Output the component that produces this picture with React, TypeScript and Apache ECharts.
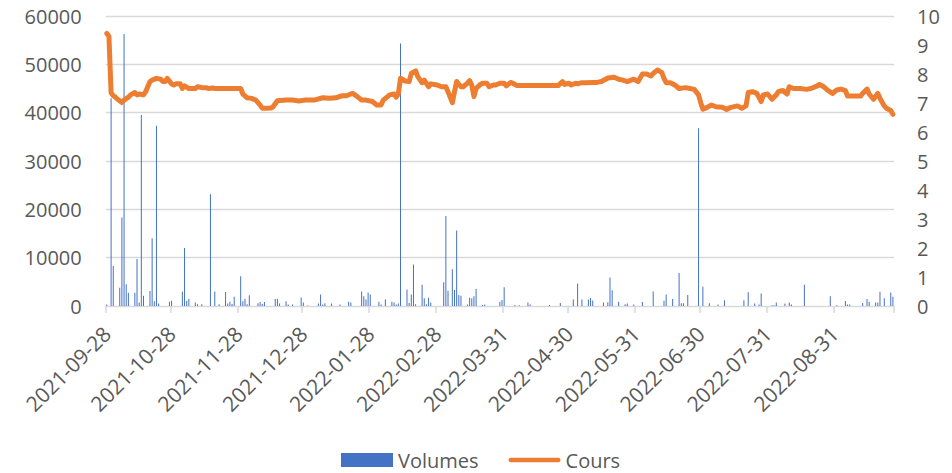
import React, { useEffect, useRef } from "react";
import * as echarts from "echarts";

// ---- data ----
const START_DATE = "2021-09-28";
const DAY_COUNT = 365;

const TICK_LABELS = [
  "2021-09-28", "2021-10-28", "2021-11-28", "2021-12-28", "2022-01-28", "2022-02-28",
  "2022-03-31", "2022-04-30", "2022-05-31", "2022-06-30", "2022-07-31", "2022-08-31",
];

const VOLUMES: [string, number][] = [
  ["2021-09-28", 300], ["2021-09-30", 43000], ["2021-10-01", 8300], ["2021-10-04", 3800],
  ["2021-10-05", 18300], ["2021-10-06", 56300], ["2021-10-07", 4500], ["2021-10-08", 2750],
  ["2021-10-11", 2750], ["2021-10-12", 9700], ["2021-10-13", 700], ["2021-10-14", 39500],
  ["2021-10-15", 2100], ["2021-10-18", 3100], ["2021-10-19", 14000], ["2021-10-20", 1000],
  ["2021-10-21", 37300], ["2021-10-22", 500], ["2021-10-27", 900], ["2021-10-28", 1100],
  ["2021-11-02", 3000], ["2021-11-03", 12000], ["2021-11-04", 1100], ["2021-11-05", 1500],
  ["2021-11-08", 700], ["2021-11-09", 350], ["2021-11-11", 350], ["2021-11-15", 23100],
  ["2021-11-17", 3000], ["2021-11-19", 350], ["2021-11-22", 2900], ["2021-11-23", 500],
  ["2021-11-24", 900], ["2021-11-25", 400], ["2021-11-26", 1900], ["2021-11-29", 6150],
  ["2021-11-30", 1000], ["2021-12-01", 1500], ["2021-12-02", 350], ["2021-12-03", 2200],
  ["2021-12-07", 550], ["2021-12-08", 850], ["2021-12-09", 400], ["2021-12-10", 850],
  ["2021-12-15", 1450], ["2021-12-16", 1500], ["2021-12-17", 500], ["2021-12-20", 1000],
  ["2021-12-21", 300], ["2021-12-23", 300], ["2021-12-27", 1750], ["2021-12-28", 750],
  ["2021-12-30", 100], ["2022-01-04", 500], ["2022-01-05", 2400], ["2022-01-06", 300],
  ["2022-01-07", 550], ["2022-01-10", 500], ["2022-01-14", 300], ["2022-01-18", 900],
  ["2022-01-19", 750], ["2022-01-24", 3000], ["2022-01-25", 2000], ["2022-01-26", 1350],
  ["2022-01-27", 2800], ["2022-01-28", 2400], ["2022-02-01", 900], ["2022-02-02", 300],
  ["2022-02-04", 1400], ["2022-02-07", 900], ["2022-02-08", 700], ["2022-02-09", 300],
  ["2022-02-10", 500], ["2022-02-11", 54300], ["2022-02-14", 3400], ["2022-02-15", 600],
  ["2022-02-16", 2400], ["2022-02-17", 8600], ["2022-02-18", 350], ["2022-02-21", 4400],
  ["2022-02-22", 1600], ["2022-02-23", 350], ["2022-02-24", 1700], ["2022-02-25", 750],
  ["2022-03-03", 4900], ["2022-03-04", 18600], ["2022-03-05", 3150], ["2022-03-07", 7600],
  ["2022-03-08", 3300], ["2022-03-09", 15600], ["2022-03-10", 2300], ["2022-03-11", 2100],
  ["2022-03-14", 300], ["2022-03-15", 1700], ["2022-03-16", 1600], ["2022-03-17", 2000],
  ["2022-03-18", 3500], ["2022-03-21", 200], ["2022-03-22", 300], ["2022-03-29", 900],
  ["2022-03-30", 1250], ["2022-03-31", 3900], ["2022-04-05", 200], ["2022-04-07", 150],
  ["2022-04-11", 700], ["2022-04-12", 300], ["2022-04-21", 200], ["2022-04-26", 600],
  ["2022-05-02", 1350], ["2022-05-04", 4650], ["2022-05-06", 1350], ["2022-05-09", 1350],
  ["2022-05-10", 1650], ["2022-05-11", 1150], ["2022-05-16", 750], ["2022-05-18", 800],
  ["2022-05-19", 5900], ["2022-05-20", 3250], ["2022-05-23", 900], ["2022-05-26", 350],
  ["2022-05-27", 500], ["2022-05-30", 300], ["2022-06-03", 850], ["2022-06-08", 3000],
  ["2022-06-13", 1100], ["2022-06-14", 2400], ["2022-06-17", 1450], ["2022-06-20", 6850],
  ["2022-06-21", 550], ["2022-06-22", 550], ["2022-06-24", 2300], ["2022-06-29", 36800],
  ["2022-07-01", 4000], ["2022-07-04", 550], ["2022-07-08", 300], ["2022-07-11", 1200],
  ["2022-07-20", 1200], ["2022-07-22", 2850], ["2022-07-25", 500], ["2022-07-27", 300],
  ["2022-07-28", 2600], ["2022-08-02", 150], ["2022-08-03", 150], ["2022-08-04", 700],
  ["2022-08-08", 500], ["2022-08-10", 700], ["2022-08-11", 300], ["2022-08-17", 4400],
  ["2022-08-29", 2000], ["2022-09-01", 150], ["2022-09-05", 1050], ["2022-09-06", 300],
  ["2022-09-07", 300], ["2022-09-13", 600], ["2022-09-15", 1450], ["2022-09-16", 900],
  ["2022-09-19", 700], ["2022-09-20", 750], ["2022-09-21", 2950], ["2022-09-23", 1600],
  ["2022-09-26", 2800], ["2022-09-27", 1900],
];

const COURS: [string, number][] = [
  ["2021-09-28", 9.4], ["2021-09-29", 9.3], ["2021-09-30", 7.35], ["2021-10-01", 7.25],
  ["2021-10-02", 7.2], ["2021-10-03", 7.13], ["2021-10-05", 7.02], ["2021-10-06", 7.1],
  ["2021-10-08", 7.2], ["2021-10-09", 7.28], ["2021-10-11", 7.36], ["2021-10-12", 7.28],
  ["2021-10-13", 7.31], ["2021-10-15", 7.28], ["2021-10-16", 7.39], ["2021-10-18", 7.74],
  ["2021-10-19", 7.79], ["2021-10-21", 7.85], ["2021-10-23", 7.82], ["2021-10-24", 7.74],
  ["2021-10-25", 7.74], ["2021-10-26", 7.85], ["2021-10-28", 7.66], ["2021-10-29", 7.62],
  ["2021-10-30", 7.66], ["2021-11-01", 7.66], ["2021-11-02", 7.5], ["2021-11-03", 7.59],
  ["2021-11-05", 7.5], ["2021-11-06", 7.5], ["2021-11-08", 7.5], ["2021-11-09", 7.56],
  ["2021-11-11", 7.53], ["2021-11-13", 7.53], ["2021-11-14", 7.5], ["2021-11-16", 7.52],
  ["2021-11-17", 7.5], ["2021-11-20", 7.5], ["2021-11-23", 7.5], ["2021-11-26", 7.5],
  ["2021-11-29", 7.5], ["2021-11-30", 7.31], ["2021-12-02", 7.18], ["2021-12-04", 7.16],
  ["2021-12-06", 7.1], ["2021-12-08", 6.93], ["2021-12-09", 6.82], ["2021-12-11", 6.82],
  ["2021-12-13", 6.83], ["2021-12-14", 6.87], ["2021-12-16", 7.08], ["2021-12-20", 7.1],
  ["2021-12-23", 7.1], ["2021-12-26", 7.07], ["2021-12-29", 7.1], ["2022-01-02", 7.1],
  ["2022-01-06", 7.18], ["2022-01-09", 7.16], ["2022-01-12", 7.18], ["2022-01-15", 7.25],
  ["2022-01-17", 7.25], ["2022-01-19", 7.31], ["2022-01-20", 7.33], ["2022-01-22", 7.22],
  ["2022-01-24", 7.1], ["2022-01-26", 7.1], ["2022-01-29", 7.05], ["2022-01-31", 6.93],
  ["2022-02-02", 6.93], ["2022-02-03", 7.1], ["2022-02-05", 7.22], ["2022-02-06", 7.28],
  ["2022-02-08", 7.31], ["2022-02-09", 7.2], ["2022-02-10", 7.31], ["2022-02-11", 7.85],
  ["2022-02-12", 7.82], ["2022-02-13", 7.76], ["2022-02-15", 7.74], ["2022-02-16", 8.02],
  ["2022-02-18", 8.11], ["2022-02-19", 7.91], ["2022-02-21", 7.7], ["2022-02-22", 7.79],
  ["2022-02-24", 7.56], ["2022-02-25", 7.66], ["2022-02-28", 7.62], ["2022-03-02", 7.56],
  ["2022-03-04", 7.56], ["2022-03-05", 7.39], ["2022-03-07", 7.01], ["2022-03-08", 7.39],
  ["2022-03-09", 7.74], ["2022-03-11", 7.56], ["2022-03-12", 7.56], ["2022-03-14", 7.68],
  ["2022-03-15", 7.77], ["2022-03-16", 7.62], ["2022-03-17", 7.22], ["2022-03-18", 7.5],
  ["2022-03-20", 7.64], ["2022-03-21", 7.68], ["2022-03-23", 7.68], ["2022-03-24", 7.56],
  ["2022-03-26", 7.62], ["2022-03-27", 7.62], ["2022-03-29", 7.68], ["2022-03-31", 7.68],
  ["2022-04-01", 7.59], ["2022-04-03", 7.71], ["2022-04-04", 7.68], ["2022-04-06", 7.6],
  ["2022-04-08", 7.6], ["2022-04-12", 7.6], ["2022-04-16", 7.6], ["2022-04-21", 7.6],
  ["2022-04-25", 7.6], ["2022-04-27", 7.74], ["2022-04-28", 7.64], ["2022-04-30", 7.68],
  ["2022-05-01", 7.62], ["2022-05-03", 7.68], ["2022-05-04", 7.66], ["2022-05-06", 7.7],
  ["2022-05-08", 7.7], ["2022-05-11", 7.71], ["2022-05-13", 7.71], ["2022-05-15", 7.74],
  ["2022-05-17", 7.82], ["2022-05-18", 7.86], ["2022-05-21", 7.89], ["2022-05-23", 7.82],
  ["2022-05-25", 7.79], ["2022-05-27", 7.74], ["2022-05-30", 7.82], ["2022-06-01", 7.74],
  ["2022-06-03", 8.0], ["2022-06-05", 8.0], ["2022-06-07", 7.93], ["2022-06-08", 8.02],
  ["2022-06-10", 8.14], ["2022-06-12", 8.05], ["2022-06-13", 7.85], ["2022-06-14", 7.7],
  ["2022-06-16", 7.7], ["2022-06-18", 7.62], ["2022-06-20", 7.5], ["2022-06-23", 7.53],
  ["2022-06-25", 7.5], ["2022-06-27", 7.47], ["2022-06-29", 7.28], ["2022-06-30", 7.01],
  ["2022-07-01", 6.79], ["2022-07-03", 6.85], ["2022-07-05", 6.93], ["2022-07-07", 6.87],
  ["2022-07-10", 6.85], ["2022-07-12", 6.78], ["2022-07-14", 6.85], ["2022-07-17", 6.9],
  ["2022-07-19", 6.82], ["2022-07-21", 6.9], ["2022-07-22", 7.36], ["2022-07-24", 7.39],
  ["2022-07-26", 7.33], ["2022-07-28", 7.05], ["2022-07-29", 7.28], ["2022-07-31", 7.31],
  ["2022-08-02", 7.13], ["2022-08-04", 7.28], ["2022-08-05", 7.39], ["2022-08-07", 7.43],
  ["2022-08-09", 7.31], ["2022-08-10", 7.56], ["2022-08-12", 7.5], ["2022-08-15", 7.5],
  ["2022-08-18", 7.47], ["2022-08-20", 7.5], ["2022-08-23", 7.59], ["2022-08-24", 7.64],
  ["2022-08-26", 7.56], ["2022-08-28", 7.43], ["2022-08-30", 7.33], ["2022-09-01", 7.45],
  ["2022-09-03", 7.48], ["2022-09-05", 7.43], ["2022-09-06", 7.24], ["2022-09-09", 7.24],
  ["2022-09-12", 7.24], ["2022-09-13", 7.33], ["2022-09-15", 7.48], ["2022-09-16", 7.31],
  ["2022-09-18", 7.13], ["2022-09-20", 7.33], ["2022-09-21", 7.16], ["2022-09-23", 6.9],
  ["2022-09-24", 6.82], ["2022-09-26", 6.74], ["2022-09-27", 6.61],
];

const VOLUME_TICKS = { min: 0, max: 60000, interval: 10000 };
const COURS_TICKS = { min: 0, max: 10, interval: 1 };

// ---- helpers ----
function buildDays(start: string, count: number): string[] {
  const [y, m, d] = start.split("-").map(Number);
  const t0 = Date.UTC(y, m - 1, d);
  const out: string[] = [];
  for (let i = 0; i < count; i++) {
    out.push(new Date(t0 + i * 86400000).toISOString().slice(0, 10));
  }
  return out;
}

const FONT = "'Open Sans', 'Noto Sans', sans-serif";
const TEXT_COLOR = "#595959";
const GRID_COLOR = "#D9D9D9";
const BAR_COLOR = "#4472C4";
const LINE_COLOR = "#ED7D31";

export default function App() {
  const ref = useRef<HTMLDivElement>(null);

  useEffect(() => {
    if (!ref.current) return;
    const chart = echarts.init(ref.current, undefined, { renderer: "svg" });
    const days = buildDays(START_DATE, DAY_COUNT);
    const volMap = new Map(VOLUMES);
    const coursMap = new Map(COURS);
    const labelSet = new Set(TICK_LABELS);
    const showAt = (_i: number, v: string) => labelSet.has(v);

    chart.setOption({
      animation: false,
      textStyle: { fontFamily: FONT },
      grid: { left: 105.7, right: 58, top: 16, bottom: 167 },
      legend: {
        left: 336,
        top: 445,
        itemWidth: 52,
        itemHeight: 14,
        itemGap: 30,
        symbolKeepAspect: true,
        textStyle: { fontSize: 20, color: TEXT_COLOR, fontFamily: FONT },
        data: [
          { name: "Volumes", icon: "rect" },
          {
            name: "Cours",
            icon: "path://M2.5,0 L52.5,0 A2.5,2.5 0 0 1 52.5,5 L2.5,5 A2.5,2.5 0 0 1 2.5,0 Z",
            itemStyle: { color: LINE_COLOR },
          },
        ],
      },
      xAxis: {
        type: "category",
        data: days,
        boundaryGap: true,
        axisLine: { lineStyle: { color: GRID_COLOR, width: 1 } },
        axisTick: {
          show: true,
          interval: showAt,
          length: 7,
          lineStyle: { color: GRID_COLOR, width: 1.5 },
        },
        axisLabel: {
          interval: showAt,
          rotate: 45,
          margin: 24,
          fontSize: 21,
          color: TEXT_COLOR,
          fontFamily: FONT,
        },
        splitLine: { show: false },
      },
      yAxis: [
        {
          type: "value",
          min: VOLUME_TICKS.min,
          max: VOLUME_TICKS.max,
          interval: VOLUME_TICKS.interval,
          axisLine: { show: false },
          axisTick: { show: false },
          axisLabel: {
            margin: 24,
            fontSize: 20,
            color: TEXT_COLOR,
            fontFamily: FONT,
            formatter: (v: number) => String(v),
          },
          splitLine: { lineStyle: { color: GRID_COLOR, width: 1.3 } },
        },
        {
          type: "value",
          position: "right",
          min: COURS_TICKS.min,
          max: COURS_TICKS.max,
          interval: COURS_TICKS.interval,
          axisLine: { show: false },
          axisTick: { show: false },
          axisLabel: {
            margin: 23,
            fontSize: 20,
            color: TEXT_COLOR,
            fontFamily: FONT,
            formatter: (v: number) => String(v),
          },
          splitLine: { show: false },
        },
      ],
      series: [
        {
          name: "Volumes",
          type: "bar",
          yAxisIndex: 0,
          barWidth: 1,
          itemStyle: { color: BAR_COLOR },
          data: days.map((d) => (volMap.has(d) ? volMap.get(d) : "-")),
        },
        {
          name: "Cours",
          type: "line",
          yAxisIndex: 1,
          symbol: "none",
          showSymbol: false,
          connectNulls: true,
          itemStyle: { color: LINE_COLOR },
          lineStyle: { color: LINE_COLOR, width: 5, cap: "round", join: "round" },
          data: days.map((d) => (coursMap.has(d) ? coursMap.get(d) : "-")),
        },
      ],
    });

    return () => chart.dispose();
  }, []);

  return (
    <div
      ref={ref}
      style={{ position: "fixed", left: 0, top: 0, width: 952, height: 473, background: "#fff" }}
    />
  );
}
